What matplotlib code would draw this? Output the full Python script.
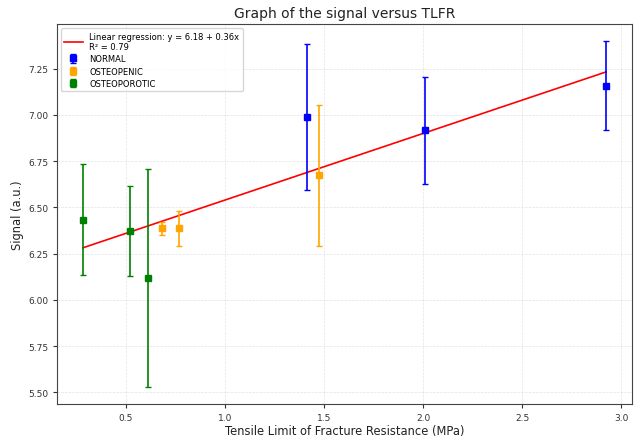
import matplotlib
matplotlib.use("Agg")
import matplotlib.pyplot as plt
import numpy as np

normal_x = [1.416, 2.008, 2.924]
normal_y = [6.987, 6.917, 7.158]
normal_err = [0.395, 0.29, 0.24]

osteopenic_x = [0.680, 0.768, 1.475]
osteopenic_y = [6.387, 6.387, 6.673]
osteopenic_err = [0.035, 0.095, 0.38]

osteoporotic_x = [0.283, 0.522, 0.609]
osteoporotic_y = [6.434, 6.374, 6.120]
osteoporotic_err = [0.30, 0.243, 0.59]

intercept = 6.18
slope = 0.36
r2 = 0.79

fig = plt.figure(figsize=(6.38, 4.39), dpi=100)
ax = fig.add_axes([0.089, 0.077, 0.902, 0.866])

all_x = normal_x + osteopenic_x + osteoporotic_x
xs = np.array([min(all_x), max(all_x)])
ax.plot(xs, intercept + slope * xs, color='red', lw=1.2,
        label=f"Linear regression: y = {intercept:.2f} + {slope:.2f}x\nR\u00b2 = {r2:.2f}")

ax.errorbar(normal_x, normal_y, yerr=normal_err, fmt='s', color='blue',
            ms=4.5, capsize=2.5, elinewidth=1.2, capthick=1, label='NORMAL')
ax.errorbar(osteopenic_x, osteopenic_y, yerr=osteopenic_err, fmt='s', color='orange',
            ms=4.5, capsize=2.5, elinewidth=1.2, capthick=1, label='OSTEOPENIC')
ax.errorbar(osteoporotic_x, osteoporotic_y, yerr=osteoporotic_err, fmt='s', color='green',
            ms=4.5, capsize=2.5, elinewidth=1.2, capthick=1, label='OSTEOPOROTIC')

ax.set_yticks([5.50, 5.75, 6.00, 6.25, 6.50, 6.75, 7.00, 7.25])
ax.set_yticklabels([f"{v:.2f}" for v in [5.50, 5.75, 6.00, 6.25, 6.50, 6.75, 7.00, 7.25]])
ax.tick_params(labelsize=6.5, colors='#333333', length=3, pad=3)
ax.grid(True, linestyle='--', linewidth=0.5, alpha=0.35)
for s in ax.spines.values():
    s.set_color('#444444')

ax.set_title("Graph of the signal versus TLFR", fontsize=10, color='#222222', pad=5)
ax.set_xlabel("Tensile Limit of Fracture Resistance (MPa)", fontsize=8.3, color='#222222', labelpad=2)
ax.set_ylabel("Signal (a.u.)", fontsize=8.3, color='#222222', labelpad=3)
ax.legend(loc='upper left', fontsize=6, handlelength=2.2, labelspacing=0.4)

fig.savefig("out.png", dpi=100)
